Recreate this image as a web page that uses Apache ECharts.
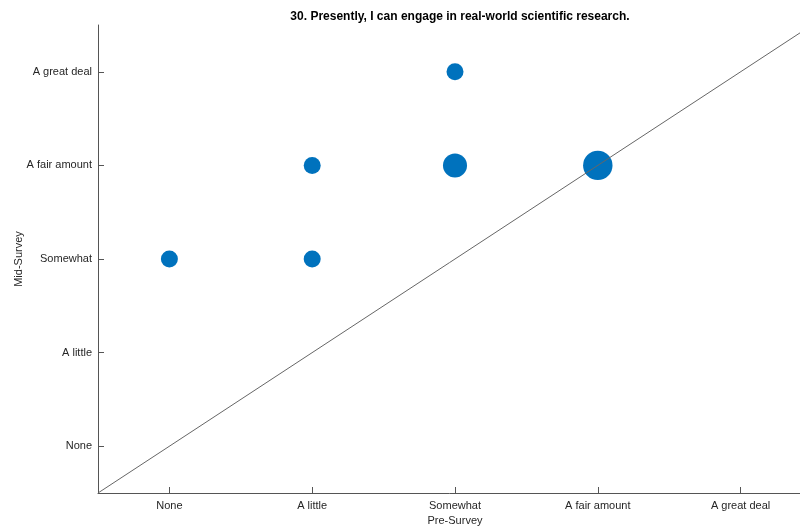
<!DOCTYPE html>
<html>
<head>
<meta charset="utf-8">
<script src="https://cdn.jsdelivr.net/npm/echarts@6/dist/echarts.min.js"></script>
<style>
  html, body { margin: 0; padding: 0; background: #fff; }
  #chart { width: 800px; height: 527px; }
</style>
</head>
<body>
<div id="chart"></div>
<script>
// Response levels (shared by both axes)
const levels = ['None', 'A little', 'Somewhat', 'A fair amount', 'A great deal'];

// Each bubble: pre-survey level, mid-survey level, number of respondents
const preLevel = ['None', 'A little', 'A little', 'Somewhat', 'Somewhat', 'A fair amount'];
const midLevel = ['Somewhat', 'Somewhat', 'A fair amount', 'A fair amount', 'A great deal', 'A fair amount'];
const counts = [1, 1, 1, 2, 1, 3];

const bubbles = preLevel.map((p, i) => [
  levels.indexOf(p) + 1,
  levels.indexOf(midLevel[i]) + 1,
  counts[i]
]);

const tickVals = levels.map((_, i) => i + 1);
const axisColor = '#555';
const textColor = '#262626';
const font = 'Liberation Sans, Arial, Helvetica, sans-serif';

const chart = echarts.init(document.getElementById('chart'));
chart.setOption({
  animation: false,
  backgroundColor: '#fff',
  title: {
    text: '30. Presently, I can engage in real-world scientific research.',
    left: 455,
    top: 6,
    textAlign: 'center',
    textStyle: { fontSize: 12, fontWeight: 'bold', color: '#000', fontFamily: font }
  },
  grid: { left: 98, top: 25, width: 714, height: 468, outerBoundsMode: 'none', containLabel: false },
  xAxis: {
    type: 'value',
    min: 0.5,
    max: 5.5,
    interval: 0.5,
    name: 'Pre-Survey',
    nameLocation: 'middle',
    nameGap: 22,
    nameMoveOverlap: false,
    nameTextStyle: { fontSize: 11, color: textColor, fontFamily: font },
    splitLine: { show: false },
    axisLine: { show: true, onZero: false, lineStyle: { color: axisColor, width: 1 } },
    axisTick: { show: true, inside: true, length: 6, customValues: tickVals, lineStyle: { color: axisColor } },
    axisLabel: {
      customValues: tickVals,
      formatter: v => levels[Math.round(v) - 1] || '',
      margin: 7,
      fontSize: 11,
      color: textColor,
      fontFamily: font
    }
  },
  yAxis: {
    type: 'value',
    min: 0.5,
    max: 5.5,
    interval: 0.5,
    name: 'Mid-Survey',
    nameLocation: 'middle',
    nameGap: 74,
    nameMoveOverlap: false,
    nameRotate: 90,
    nameTextStyle: { fontSize: 11, color: textColor, fontFamily: font },
    splitLine: { show: false },
    axisLine: { show: true, onZero: false, lineStyle: { color: axisColor, width: 1 } },
    axisTick: { show: true, inside: true, length: 6, customValues: tickVals, lineStyle: { color: axisColor } },
    axisLabel: {
      customValues: tickVals,
      formatter: v => levels[Math.round(v) - 1] || '',
      margin: 6,
      fontSize: 11,
      color: textColor,
      fontFamily: font
    }
  },
  series: [
    {
      type: 'scatter',
      data: bubbles,
      symbolSize: d => 17 * Math.sqrt(d[2]),
      itemStyle: { color: '#0072BD', opacity: 1 },
      z: 2
    },
    {
      // identity line: no change between surveys
      type: 'line',
      data: [[0.5, 0.5], [5.5, 5.5]],
      showSymbol: false,
      clip: true,
      lineStyle: { color: '#666', width: 1 },
      z: 3
    }
  ]
});
</script>
</body>
</html>
